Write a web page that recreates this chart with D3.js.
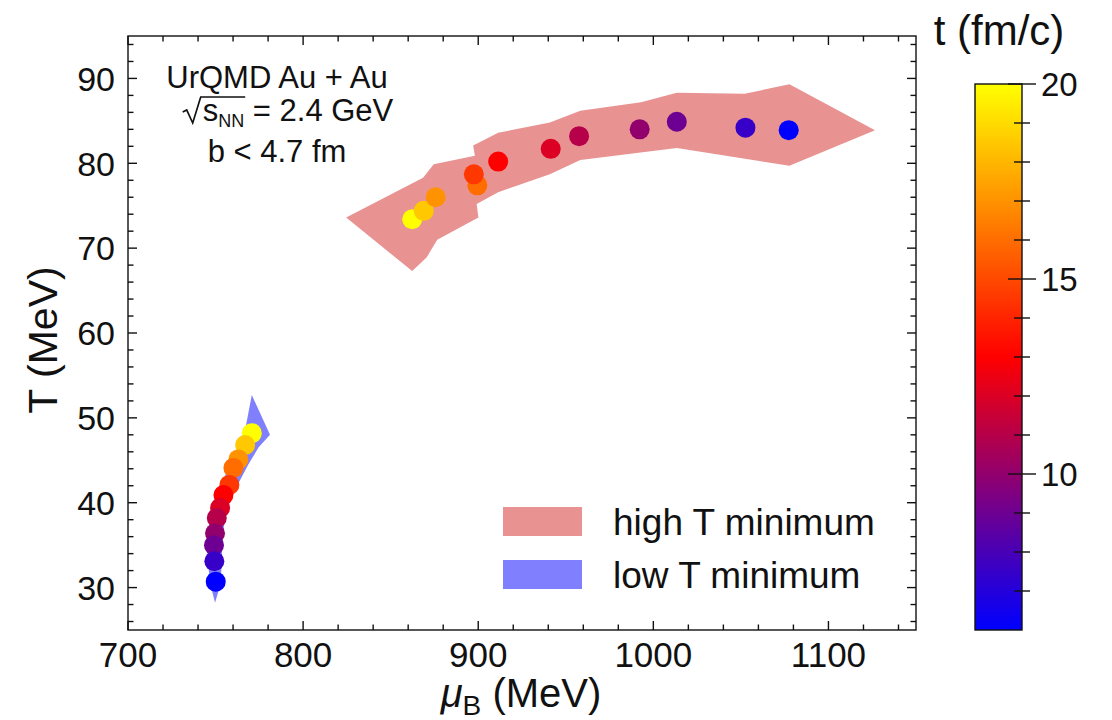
<!DOCTYPE html>
<html>
<head>
<meta charset="utf-8">
<script src="https://cdn.jsdelivr.net/npm/d3@7"></script>
<style>
  html, body { margin: 0; padding: 0; background: #fff; }
  svg { display: block; font-family: "Liberation Sans", Arial, sans-serif; }
</style>
</head>
<body>
<svg id="chart" width="1112" height="720"></svg>
<script>
// ---- data -------------------------------------------------------------
// time of each snapshot (fm/c), shared by both minima tracks
const times = [20, 18.5, 17, 16, 14.5, 13, 12, 11, 10, 9, 7.5, 6];

// high-T minimum track
const highMu = [862.3, 868.9, 875.7, 899.5, 897.5, 911.4, 941.4, 957.6, 992.2, 1013.4, 1052.6, 1077.3];
const highT  = [73.4, 74.4, 76.0, 77.4, 78.7, 80.2, 81.7, 83.2, 84.0, 84.9, 84.2, 83.9];

// low-T minimum track
const lowMu = [770.7, 766.9, 763.0, 760.2, 757.9, 754.5, 752.6, 750.7, 749.7, 749.1, 749.3, 750.1];
const lowT  = [48.2, 46.8, 45.1, 44.1, 42.1, 40.9, 39.4, 38.2, 36.4, 35.0, 33.1, 30.7];

// uncertainty regions, [muB, T] outline
const highBand = [
  [824.6, 73.6], [868.5, 78.3], [874.6, 79.9], [898.1, 80.9], [897.1, 82.1],
  [911.4, 83.6], [940.9, 84.8], [958.3, 86.2], [993.0, 87.2], [1013.4, 88.3],
  [1052.2, 88.2], [1077.7, 89.3], [1126.6, 83.9],
  [1077.7, 79.7], [1013.4, 81.8], [958.3, 80.4], [940.9, 78.7], [911.4, 76.6],
  [899.1, 75.2], [900.1, 73.6], [876.6, 71.0], [870.5, 68.9], [862.3, 67.3]
];
const lowBand = [
  [770.7, 52.7], [781.1, 48.0], [774.5, 46.5], [768.7, 44.5], [762.1, 41.9],
  [756.4, 39.2], [754.1, 36.4], [753.5, 33.3], [753.0, 30.5], [749.7, 28.2],
  [746.9, 30.5], [745.3, 33.7], [745.9, 36.8], [748.4, 39.6], [753.5, 42.3],
  [760.2, 45.3], [765.9, 47.4], [766.9, 48.6]
];

// axes ticks
const xMajor = [700, 800, 900, 1000, 1100];
const yMajor = [30, 40, 50, 60, 70, 80, 90];
const cbMajor = [10, 15, 20];
const legendLabels = ["high T minimum", "low T minimum"];

// ---- layout -----------------------------------------------------------
const svg = d3.select("#chart");
const P = { left: 128, right: 916, top: 36, bottom: 630 };
const x = d3.scaleLinear().domain([700, 1150]).range([P.left, P.right]);
const y = d3.scaleLinear().domain([25, 95]).range([P.bottom, P.top]);
const color = d3.scaleLinear().domain([6, 13, 20]).range(["#0000ff", "#ff0000", "#ffff00"]);

const highFill = "#e89292";
const lowFill = "#8080ff";
const ink = "#111";

svg.append("rect").attr("width", 1112).attr("height", 720).attr("fill", "#fff");

// ---- bands ------------------------------------------------------------
const outline = d3.line().x(d => x(d[0])).y(d => y(d[1]));
svg.append("path").attr("d", outline(highBand) + "Z").attr("fill", highFill);
svg.append("path").attr("d", outline(lowBand) + "Z").attr("fill", lowFill);

// ---- points -----------------------------------------------------------
function drawTrack(mu, T) {
  const pts = times.map((t, i) => ({ mu: mu[i], T: T[i], t }));
  svg.append("g").selectAll("circle").data(pts).join("circle")
    .attr("cx", d => x(d.mu)).attr("cy", d => y(d.T)).attr("r", 10)
    .attr("fill", d => color(d.t));
}
drawTrack(highMu, highT);
drawTrack(lowMu, lowT);

// ---- frame and ticks --------------------------------------------------
const frame = svg.append("g").attr("stroke", ink).attr("stroke-width", 1.4);
const xMinor = d3.range(700, 1150, 20).filter(v => !xMajor.includes(v));
const yMinor = d3.range(26, 95, 2).filter(v => !yMajor.includes(v));
const majLen = 9, minLen = 5.5;

function xTick(v, len) {
  frame.append("line").attr("x1", x(v)).attr("x2", x(v)).attr("y1", P.bottom).attr("y2", P.bottom - len);
  frame.append("line").attr("x1", x(v)).attr("x2", x(v)).attr("y1", P.top).attr("y2", P.top + len);
}
function yTick(v, len) {
  frame.append("line").attr("y1", y(v)).attr("y2", y(v)).attr("x1", P.left).attr("x2", P.left + len);
  frame.append("line").attr("y1", y(v)).attr("y2", y(v)).attr("x1", P.right).attr("x2", P.right - len);
}
xMajor.forEach(v => xTick(v, majLen));
xMinor.forEach(v => xTick(v, minLen));
yMajor.forEach(v => yTick(v, majLen));
yMinor.forEach(v => yTick(v, minLen));
frame.append("rect").attr("x", P.left).attr("y", P.top)
  .attr("width", P.right - P.left).attr("height", P.bottom - P.top).attr("fill", "none");

// tick labels
svg.append("g").selectAll("text").data(xMajor).join("text")
  .attr("x", d => x(d)).attr("y", 667).attr("text-anchor", "middle")
  .attr("font-size", 35).attr("fill", ink).text(d => d);
svg.append("g").selectAll("text").data(yMajor).join("text")
  .attr("x", 115).attr("y", d => y(d)).attr("dy", "0.36em").attr("text-anchor", "end")
  .attr("font-size", 34).attr("fill", ink).text(d => d);

// axis titles
const xt = svg.append("text").attr("x", 521).attr("y", 707).attr("text-anchor", "middle")
  .attr("font-size", 40).attr("fill", ink);
xt.append("tspan").attr("font-style", "italic").text("μ");
xt.append("tspan").attr("font-size", 28).attr("dy", 8).text("B");
xt.append("tspan").attr("dy", -8).text(" (MeV)");

svg.append("text").attr("transform", "translate(57,340) rotate(-90)")
  .attr("text-anchor", "middle").attr("font-size", 41).attr("fill", ink).text("T (MeV)");

// ---- annotation -------------------------------------------------------
const ann = svg.append("g").attr("fill", ink).attr("font-size", 31).attr("text-anchor", "middle");
ann.append("text").attr("x", 277).attr("y", 88).text("UrQMD Au + Au");
const l2 = ann.append("text").attr("x", 277).attr("y", 121);
l2.append("tspan").attr("dx", 21).text("s");
l2.append("tspan").attr("font-size", 18).attr("dy", 6).text("NN");
l2.append("tspan").attr("dy", -6).text(" = 2.4 GeV");
ann.append("text").attr("x", 277).attr("y", 162).text("b < 4.7 fm");

// radical sign drawn over "s NN"
{
  const node = l2.node();
  const s0 = node.getStartPositionOfChar(0);
  const nEnd = node.getEndPositionOfChar(2);
  const base = s0.y, top = base - 24;
  const r = d3.path();
  r.moveTo(s0.x - 20, base - 9);
  r.lineTo(s0.x - 16, base - 11);
  r.lineTo(s0.x - 10, base + 2);
  r.lineTo(s0.x - 2, top);
  r.lineTo(nEnd.x + 1, top);
  ann.append("path").attr("d", r.toString()).attr("fill", "none")
    .attr("stroke", ink).attr("stroke-width", 1.7);
}

// ---- legend -----------------------------------------------------------
const lg = svg.append("g");
[highFill, lowFill].forEach((c, i) => {
  const yy = 507 + i * 53;
  lg.append("rect").attr("x", 503).attr("y", yy).attr("width", 79).attr("height", 29).attr("fill", c);
  lg.append("text").attr("x", 613).attr("y", yy + 28).attr("font-size", 37).attr("fill", ink)
    .text(legendLabels[i]);
});

// ---- colour bar -------------------------------------------------------
const CB = { x0: 975, x1: 1022, top: 84, bottom: 630 };
const cb = d3.scaleLinear().domain([6, 20]).range([CB.bottom, CB.top]);
const defs = svg.append("defs");
const grad = defs.append("linearGradient").attr("id", "tgrad")
  .attr("x1", 0).attr("y1", 1).attr("x2", 0).attr("y2", 0);
d3.range(6, 20.01, 0.5).forEach(t => {
  grad.append("stop").attr("offset", (t - 6) / 14).attr("stop-color", color(t));
});
svg.append("rect").attr("x", CB.x0).attr("y", CB.top)
  .attr("width", CB.x1 - CB.x0).attr("height", CB.bottom - CB.top)
  .attr("fill", "url(#tgrad)").attr("stroke", ink).attr("stroke-width", 1.4);
const cbt = svg.append("g").attr("stroke", ink).attr("stroke-width", 1.4);
d3.range(7, 21, 1).forEach(t => {
  const major = cbMajor.includes(t);
  cbt.append("line").attr("x1", CB.x1 - (major ? 14 : 8)).attr("x2", CB.x1 + (major ? 14 : 8))
    .attr("y1", cb(t)).attr("y2", cb(t));
});
svg.append("g").selectAll("text").data(cbMajor).join("text")
  .attr("x", 1041).attr("y", d => cb(d)).attr("dy", "0.36em")
  .attr("font-size", 33).attr("fill", ink).text(d => d);
svg.append("text").attr("x", 999).attr("y", 45).attr("text-anchor", "middle")
  .attr("font-size", 42).attr("fill", ink).text("t (fm/c)");
</script>
</body>
</html>
